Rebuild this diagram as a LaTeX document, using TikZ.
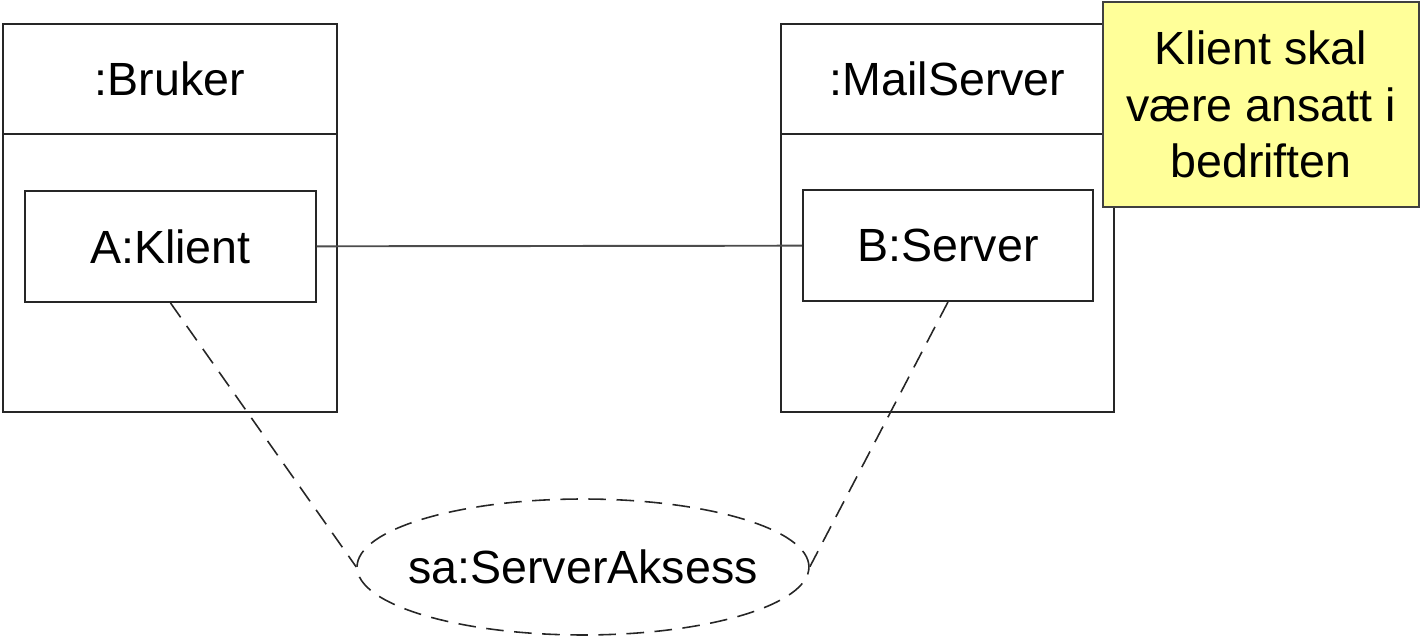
\documentclass[tikz,border=0pt]{standalone}
\usepackage{fontspec}
\setmainfont{Liberation Sans}
\usepackage{tikz}
\usetikzlibrary{shapes.geometric,positioning}
\definecolor{notefill}{RGB}{255,255,153}
\tikzset{object box/.style={rectangle, draw=black!85, line width=1.1pt, inner sep=0pt}}
\tikzset{part node/.style={object box, minimum width=5.81cm, minimum height=2.22cm}}
\tikzset{role node/.style={ellipse, draw=black!85, line width=0.9pt, dash pattern=on 10pt off 6pt, inner xsep=-0.3cm, inner ysep=0pt}}
\tikzset{note node/.style={object box, fill=notefill, draw=black!75, align=center}}
\tikzset{link edge/.style={draw=black!70, line width=1.1pt}}
\tikzset{role edge/.style={draw=black!85, line width=0.9pt, dash pattern=on 10pt off 6pt}}

\begin{document}
\begin{tikzpicture}
      [x=0.02cm, y=-0.02cm, font=\fontsize{26.5}{32}\selectfont]
      \useasboundingbox (0,0) rectangle (1421,638);

      \node [object box, minimum width=6.68cm, minimum height=2.2cm]  (brukerhead) at ( 170,   79) {:Bruker};
      \node [object box, minimum width=6.68cm, minimum height=5.56cm] (brukerbody) at ( 170,  273) {};
      \node [part node]                                              (klient)     at ( 170.5, 246.5) {A:Klient};

      \node [object box, minimum width=6.66cm, minimum height=2.2cm]  (mailhead)   at ( 947.5,  79) {:MailServer};
      \node [object box, minimum width=6.66cm, minimum height=5.56cm] (mailbody)   at ( 947.5, 273) {};
      \node [part node]                                              (server)     at ( 948,  245.5) {B:Server};

      \node [role node, minimum width=9.04cm, minimum height=2.72cm]  (aksess)     at ( 583,  567) {sa:ServerAksess};

      \draw [link edge] (klient) to (server);
      \draw [role edge] (klient.south) to (aksess.west);
      \draw [role edge] (server.south) to (aksess.east);

      \node [note node, minimum width=6.32cm, minimum height=4.1cm]   (note)       at (1261,  104.5)
            {Klient skal\\være ansatt i\\bedriften};
    \end{tikzpicture}
\end{document}
